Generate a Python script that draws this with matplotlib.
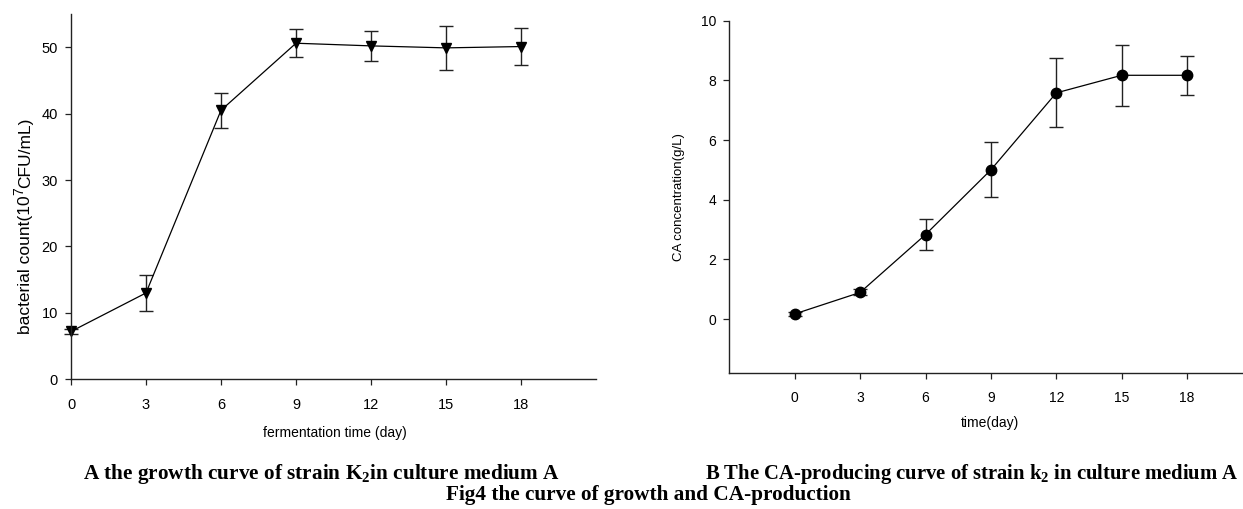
import numpy as np
import matplotlib
matplotlib.use('Agg')
import matplotlib.pyplot as plt

plt.rcParams['font.family'] = ['Liberation Sans', 'DejaVu Sans']
plt.rcParams['mathtext.fontset'] = 'custom'
plt.rcParams['mathtext.rm'] = 'Liberation Sans'
plt.rcParams['mathtext.bf'] = 'Liberation Serif:bold'

#------------------------------- data -------------------------------
days = [0, 3, 6, 9, 12, 15, 18]

# A: bacterial count, 10^7 CFU/mL
count = [7.2, 13.0, 40.5, 50.6, 50.2, 49.9, 50.1]
count_err = [0.4, 2.65, 2.65, 2.1, 2.25, 3.35, 2.75]

# B: CA concentration, g/L
ca = [0.17, 0.89, 2.83, 5.0, 7.58, 8.17, 8.17]
ca_err = [0.08, 0.1, 0.51, 0.92, 1.16, 1.03, 0.66]

xticks = [0, 3, 6, 9, 12, 15, 18]

W, H = 1243, 509
fig = plt.figure(figsize=(W / 100, H / 100), dpi=100)

def px_axes(x0, y0, x1, y1):
    # axes box given in pixels from the top-left corner
    return fig.add_axes([x0 / W, 1 - y1 / H, (x1 - x0) / W, (y1 - y0) / H])

def style(ax, size):
    for s in ['top', 'right']:
        ax.spines[s].set_visible(False)
    for s in ['left', 'bottom']:
        ax.spines[s].set_linewidth(1.0)
        ax.spines[s].set_color('#222222')
    ax.tick_params(direction='out', length=4.5, width=0.9, color='#222222', labelsize=size)
    ax.tick_params(axis='x', pad=9)
    ax.tick_params(axis='y', pad=5)

def curve(ax, y, err, marker):
    eb = ax.errorbar(days, y, yerr=err, color='black', lw=0.9, marker=marker, ms=7.5,
                     ecolor='#222222', elinewidth=1.0, capsize=5, capthick=1.0)
    for art in [eb.lines[0]] + list(eb.lines[1]) + list(eb.lines[2]):
        art.set_clip_on(False)

#------------------------------- A ----------------------------------
ax1 = px_axes(71, 14, 596, 379.3)
curve(ax1, count, count_err, 'v')
ax1.set_xlim(0, 21)
ax1.set_ylim(0, 55)
ax1.set_xticks(xticks)
ax1.set_yticks([0, 10, 20, 30, 40, 50])
style(ax1, 10.5)

# y label with a raised exponent, put together piece by piece along the baseline
lab = dict(rotation=90, rotation_mode='anchor', ha='left', va='baseline')
t1 = fig.text(30 / W, 1 - 334 / H, 'bacterial count(10', fontsize=12.5, **lab)
fig.canvas.draw()
bb = t1.get_window_extent()
t2 = fig.text(23.5 / W, bb.y1 / H, '7', fontsize=10, **lab)
fig.canvas.draw()
bb2 = t2.get_window_extent()
fig.text(30 / W, bb2.y1 / H, 'CFU/mL)', fontsize=12.5, **lab)

fig.text(335 / W, 1 - 433 / H, 'fermentation time (day)', ha='center', va='center',
         fontsize=10, family=['Liberation Sans Narrow', 'Liberation Sans'])

#------------------------------- B ----------------------------------
ax2 = px_axes(729.3, 20.7, 1252.5, 372.7)
curve(ax2, ca, ca_err, 'o')
ax2.set_xlim(-3, 21)
ax2.set_ylim(-1.8, 10)
ax2.set_xticks(xticks)
ax2.set_yticks([0, 2, 4, 6, 8, 10])
style(ax2, 10)
fig.text(679 / W, 1 - 197 / H, 'CA concentration(g/L)', rotation=90,
         ha='center', va='center', fontsize=9.5)
fig.text(990 / W, 1 - 423 / H, 'time(day)', ha='center', va='center',
         fontsize=10, family=['Liberation Sans Narrow', 'Liberation Sans'])

#------------------------------- captions ---------------------------
cap = dict(family=['Liberation Serif', 'DejaVu Serif'], fontweight='bold', va='baseline')
fig.text(83 / W, 1 - 479 / H, r'A the growth curve of strain K$_\mathbf{2}$in culture medium A',
         ha='left', fontsize=15.3, **cap)
fig.text(705 / W, 1 - 479 / H, r'B The CA-producing curve of strain k$_\mathbf{2}$ in culture medium A',
         ha='left', fontsize=14.9, **cap)
fig.text(648 / W, 1 - 500 / H, 'Fig4 the curve of growth and CA-production',
         ha='center', fontsize=15.3, **cap)

fig.savefig('out.png', dpi=100)
